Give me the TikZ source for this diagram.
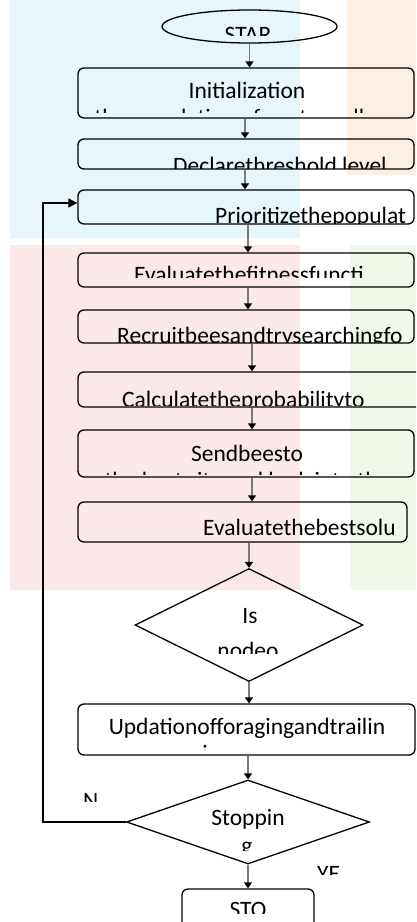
\documentclass[tikz,border=0pt]{standalone}
\usepackage{fontspec}
\setmainfont{Carlito}
\usetikzlibrary{shapes.geometric,arrows.meta}
\definecolor{tcyan}{HTML}{E6F6FA}
\definecolor{tpeach}{HTML}{FDEFE4}
\definecolor{tpink}{HTML}{FBE9E9}
\definecolor{tgreen}{HTML}{F0F9E9}
\definecolor{shaft}{HTML}{7A7A7A}
\begin{document}
\begin{tikzpicture}[x=1pt,y=-1pt,
  box/.style={draw=black, line width=1.3pt, rounded corners=6pt, inner sep=0pt},
  dia/.style={draw=black, line width=1.3pt, diamond, inner sep=0pt},
  ell/.style={draw=black, line width=1.3pt, ellipse, inner sep=0pt},
  lbl/.style={inner sep=0pt, font=\fontsize{23.5}{27}\selectfont},
  flow/.style={draw=shaft, line width=1.6pt, -{Triangle[width=8pt,length=6pt,color=black]}},
  back/.style={draw=black, line width=1.3pt, -{Triangle[width=9pt,length=9pt]}}]
\useasboundingbox (0,0) rectangle (416,922);
\clip (0,0) rectangle (416,922);
% faint background tints
\fill[tcyan] (10,0) rectangle (300,238);
\fill[tpeach] (347,0) rectangle (416,175);
\fill[tpink] (10,245) rectangle (300,590);
\fill[tgreen] (350,245) rectangle (416,590);
% shapes
\node[ell, minimum width=175pt, minimum height=33pt] (e) at (249.5,26.5) {};
\node[box, minimum width=336pt, minimum height=50pt] (b1) at (246,93) {};
\node[box, minimum width=336pt, minimum height=30pt] (b2) at (246,154) {};
\node[box, minimum width=336pt, minimum height=34pt] (b3) at (246,207) {};
\node[box, minimum width=336pt, minimum height=34pt] (b4) at (246,270) {};
\node[box, minimum width=336pt, minimum height=33pt] (b5) at (246,326.5) {};
\node[box, minimum width=344pt, minimum height=35pt] (b6) at (250,389.5) {};
\node[box, minimum width=336pt, minimum height=47pt] (b7) at (246,453.5) {};
\node[box, minimum width=329pt, minimum height=40pt] (b8) at (242.5,522) {};
\node[dia, minimum width=228pt, minimum height=113pt] (d1) at (249,625) {};
\node[box, minimum width=337pt, minimum height=51pt] (b9) at (246.5,729.5) {};
\node[dia, minimum width=243pt, minimum height=84pt] (d2) at (248,822) {};
\node[box, minimum width=132pt, minimum height=50pt] (s) at (248,914) {};
% texts
\begin{scope}\clip (0,0) rectangle (416,35);
\node[lbl, anchor=base] (t0) at (248,42.5) {STAR};\end{scope}
\node[lbl, anchor=base] (t1) at (247,98) {Initialization};
\begin{scope}\clip (80,100) rectangle (412,112);
\node[lbl, anchor=base] (t1b) at (234,125) {the population of nectar cells};\end{scope}
\begin{scope}\clip (80,140) rectangle (412,168);
\node[lbl, anchor=base west] (t2) at (173,173) {Declarethreshold level};\end{scope}
\begin{scope}\clip (80,191) rectangle (411,223);
\node[lbl, anchor=base west] (t3) at (215,223) {Prioritizethepopulat};\end{scope}
\begin{scope}\clip (80,254) rectangle (412,277);
\node[lbl, anchor=base west] (t4) at (134,282.5) {Evaluatethefitnessfuncti};\end{scope}
\begin{scope}\clip (80,311) rectangle (412,342);
\node[lbl, anchor=base west] (t5) at (117,343.5) {Recruitbeesandtrysearchingfo};\end{scope}
\begin{scope}\clip (80,373) rectangle (416,405);
\node[lbl, anchor=base west] (t6) at (122,407.5) {Calculatetheprobabilityto};\end{scope}
\node[lbl, anchor=base] (t7) at (247,461.5) {Sendbeesto};
\begin{scope}\clip (80,465) rectangle (412,474);
\node[lbl, anchor=base] (t7b) at (247,488) {the best site and look into the};\end{scope}
\node[lbl, anchor=base west] (t8) at (203,535) {Evaluatethebestsolu};
\node[lbl, anchor=base] (t9) at (250,623) {Is};
\begin{scope}\clip (150,630) rectangle (350,653);
\node[lbl, anchor=base] (t9b) at (248,658) {nodeo};\end{scope}
\node[lbl, anchor=base] (t10) at (247,734) {Updationofforagingandtrailin};
\begin{scope}\clip (80,740) rectangle (412,749);
\node[lbl, anchor=base] (t10b) at (205,761) {i};\end{scope}
\node[lbl, anchor=base] (t11) at (248,825) {Stoppin};
\begin{scope}\clip (150,830) rectangle (350,850);
\node[lbl, anchor=base] (t11b) at (247,853) {g};\end{scope}
\begin{scope}\clip (60,780) rectangle (120,801);
\node[lbl, anchor=base west] (tn) at (83,808) {N};\end{scope}
\begin{scope}\clip (300,850) rectangle (360,874);
\node[lbl, anchor=base west] (ty) at (317,881) {YE};\end{scope}
\begin{scope}\clip (190,892) rectangle (306,913);
\node[lbl, anchor=base] (ts) at (248,917) {STO};\end{scope}
% connectors
\draw[flow] (e.south) -- (e.south |- b1.north);
\draw[flow] ([xshift=-1pt]b1.south) -- ([xshift=-1pt]b1.south |- b2.north);
\draw[flow] ([xshift=-1pt]b2.south) -- ([xshift=-1pt]b2.south |- b3.north);
\draw[flow] ([xshift=2pt]b3.south) -- ([xshift=2pt]b3.south |- b4.north);
\draw[flow] ([xshift=2pt]b4.south) -- ([xshift=2pt]b4.south |- b5.north);
\draw[flow] ([xshift=6pt]b5.south) -- ([xshift=6pt]b5.south |- b6.north);
\draw[flow] ([xshift=2pt]b6.south) -- ([xshift=2pt]b6.south |- b7.north);
\draw[flow] ([xshift=6pt]b7.south) -- ([xshift=6pt]b7.south |- b8.north);
\draw[flow] (b8.south -| d1.north) -- (d1.north);
\draw[flow] (d1.south) -- (d1.south |- b9.north);
\draw[flow] (b9.south -| d2.north) -- (d2.north);
\draw[flow] (d2.south) -- (d2.south |- s.north);
\coordinate (fbl) at (43,822);
\coordinate (fbt) at (43,203);
\draw[back] (d2.west) -- (fbl) -- (fbt) -- (b3.west |- fbt);
\end{tikzpicture}
\end{document}
